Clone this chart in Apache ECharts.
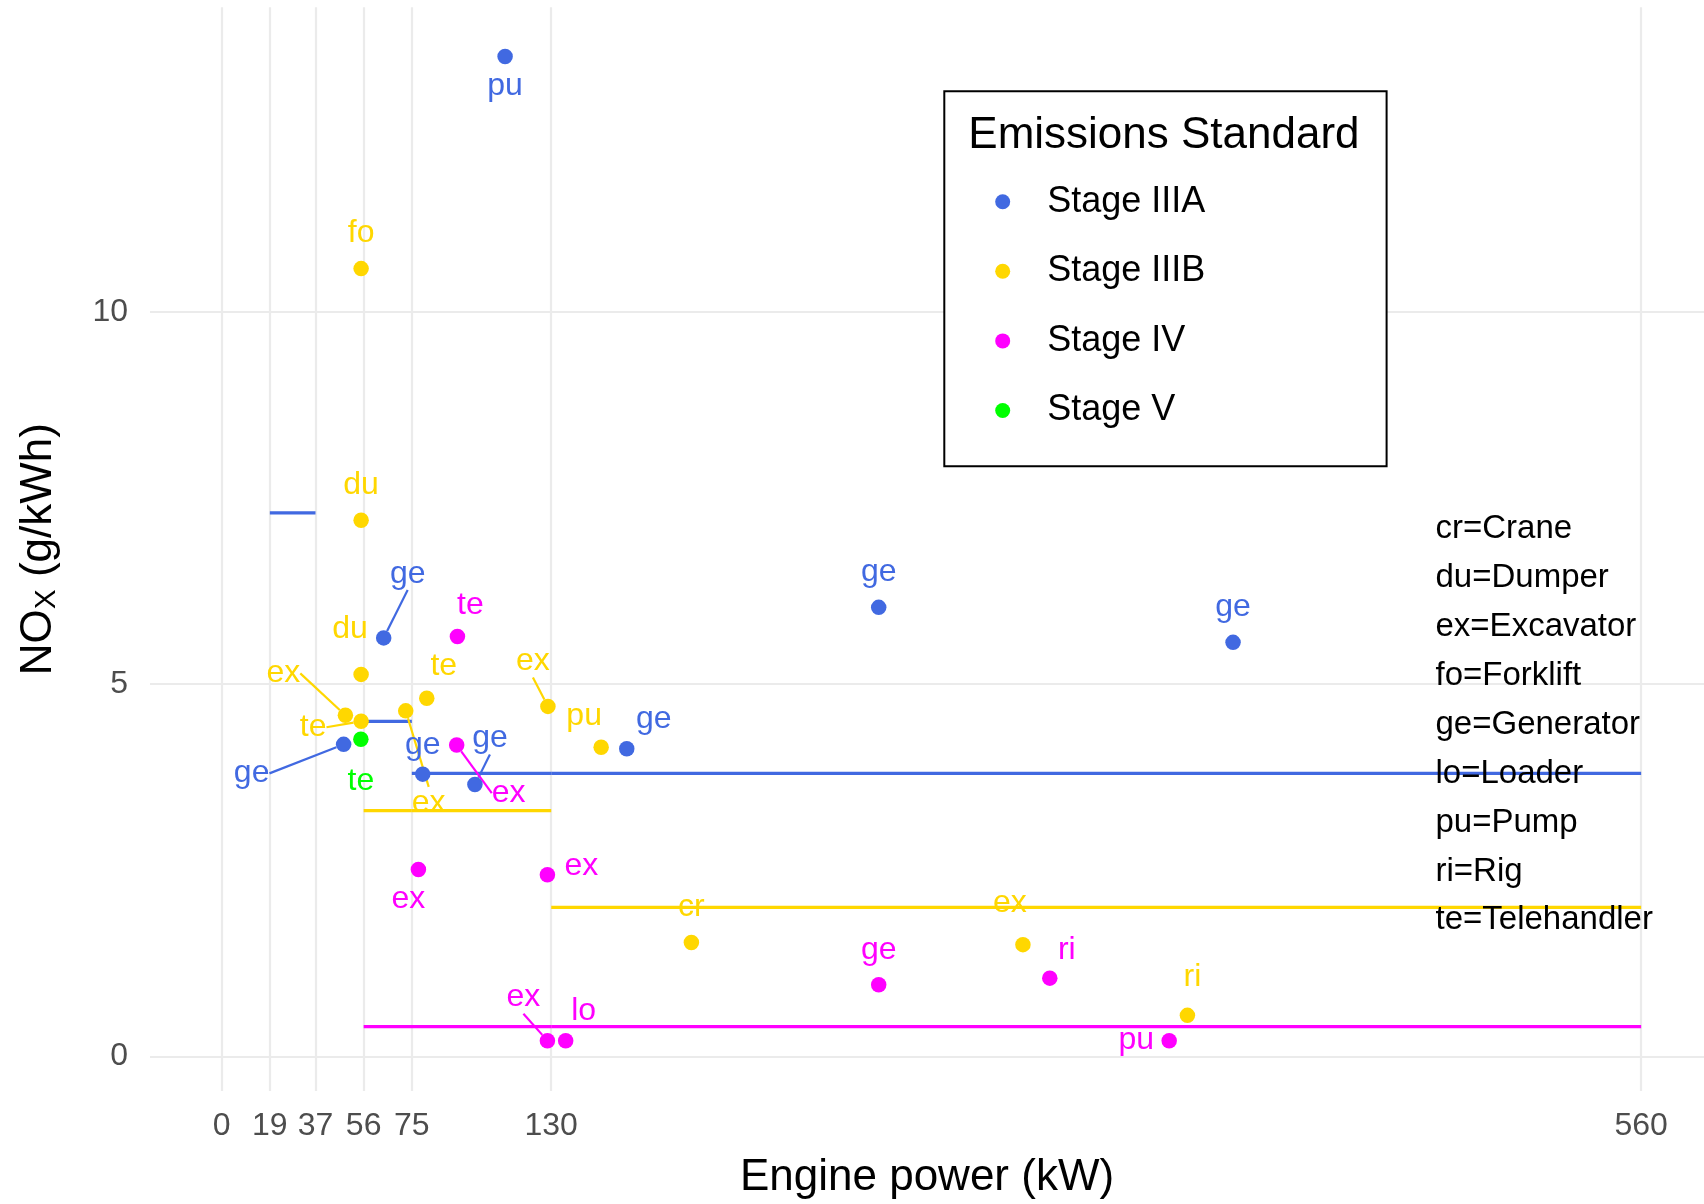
<!DOCTYPE html>
<html>
<head>
<meta charset="utf-8">
<script src="https://cdn.jsdelivr.net/npm/echarts@6/dist/echarts.min.js"></script>
<style>html,body{margin:0;padding:0;background:#fff}#c{width:1704px;height:1204px}</style>
</head>
<body>
<div id="c"></div>
<script>
// ---- DATA ----
const stages = ['Stage IIIA', 'Stage IIIB', 'Stage IV', 'Stage V'];

const iiiaPower = [111.8, 63.9, 48.1, 79.3, 99.9, 159.8, 259.2, 399.0];
const iiiaNOx   = [13.43, 5.62, 4.19, 3.79, 3.65, 4.13, 6.03, 5.56];
const iiiaType  = ['pu', 'ge', 'ge', 'ge', 'ge', 'ge', 'ge', 'ge'];

const iiibPower = [55, 55, 55, 48.8, 55, 72.6, 80.9, 128.7, 149.7, 185.3, 316.1, 381.0];
const iiibNOx   = [10.58, 7.20, 5.13, 4.58, 4.50, 4.64, 4.81, 4.70, 4.15, 1.53, 1.50, 0.55];
const iiibType  = ['fo', 'du', 'du', 'ex', 'te', 'ex', 'te', 'ex', 'pu', 'cr', 'ex', 'ri'];

const ivPower = [93.0, 92.7, 77.6, 128.5, 128.5, 135.7, 259.2, 326.7, 373.8];
const ivNOx   = [5.64, 4.18, 2.51, 2.44, 0.21, 0.21, 0.96, 1.05, 0.21];
const ivType  = ['te', 'ex', 'ex', 'ex', 'ex', 'lo', 'ge', 'ri', 'pu'];

const vPower = [54.9];
const vNOx   = [4.26];
const vType  = ['te'];

// limit segments: [from kW, to kW, NOx]
const limitIIIA = [[19, 37, 7.3], [56, 75, 4.5], [75, 130, 3.8], [130, 560, 3.8]];
const limitIIIB = [[56, 75, 3.3], [75, 130, 3.3], [130, 560, 2.0]];
const limitIV   = [[56, 130, 0.4], [130, 560, 0.4]];

const xTicks = [0, 19, 37, 56, 75, 130, 560];
const yTicks = [0, 5, 10];
const abbreviations = ['cr=Crane', 'du=Dumper', 'ex=Excavator', 'fo=Forklift', 'ge=Generator',
  'lo=Loader', 'pu=Pump', 'ri=Rig', 'te=Telehandler'];

// ---- LAYOUT / STYLE (label offsets in px: [dx, dy, showLine]) ----
const colors = ['#4169E1', '#FFD700', '#FF00FF', '#00FF00'];
const labelOffsets = [
  [[0, 30, 0], [24, -64, 1], [-92, 29, 1], [0, -29, 0], [15, -46, 1], [27, -30, 0], [0, -35, 0], [0, -35, 0]],
  [[0, -35, 0], [0, -35, 0], [-11, -45, 0], [-62, -42, 1], [-48, 6, 1], [23, 92, 1], [17, -32, 0], [-15, -45, 1], [-17, -31, 0], [0, -35, 0], [-13, -41, 0], [5, -38, 0]],
  [[13, -31, 0], [52, 48, 1], [-10, 30, 0], [34, -8, 0], [-24, -43, 1], [18, -29, 0], [0, -35, 0], [17, -28, 0], [-33, 0, 0]],
  [[0, 42, 0]]
];
const FONT = '"Liberation Sans", Arial, sans-serif';

function pts(power, nox, type, si) {
  return power.map((p, i) => ({
    value: [p, nox[i]],
    name: type[i],
    labelLine: { show: !!labelOffsets[si][i][2] }
  }));
}
const pointSets = [
  pts(iiiaPower, iiiaNOx, iiiaType, 0),
  pts(iiibPower, iiibNOx, iiibType, 1),
  pts(ivPower, ivNOx, ivType, 2),
  pts(vPower, vNOx, vType, 3)
];

const series = [];
stages.forEach((s, si) => {
  series.push({
    name: s,
    type: 'scatter',
    data: pointSets[si],
    symbol: 'circle',
    symbolSize: 15.5,
    itemStyle: { color: colors[si], opacity: 1 },
    z: 3,
    label: {
      show: true, position: 'inside', formatter: '{b}',
      color: colors[si], fontSize: 32, fontFamily: FONT
    },
    labelLine: { show: true, lineStyle: { color: colors[si], width: 2.2 } },
    labelLayout: function (p) {
      const o = labelOffsets[p.seriesIndex][p.dataIndex];
      return { dx: o[0], dy: o[1] };
    },
    emphasis: { disabled: true },
    silent: true
  });
});
[[limitIIIA, 0], [limitIIIB, 1], [limitIV, 2]].forEach(([segs, ci]) => {
  segs.forEach((sg, k) => {
    series.push({
      name: 'limit' + ci + '_' + k,
      type: 'line',
      data: [[sg[0], sg[2]], [sg[1], sg[2]]],
      showSymbol: false,
      symbol: 'none',
      lineStyle: { color: colors[ci], width: 3.2 },
      z: 2,
      silent: true,
      emphasis: { disabled: true }
    });
  });
});

const chart = echarts.init(document.getElementById('c'), null, { renderer: 'canvas' });
chart.setOption({
  backgroundColor: '#fff',
  animation: false,
  grid: { left: 150, right: 0, top: 7.3, bottom: 113, outerBoundsMode: 'none' },
  xAxis: {
    type: 'value', min: -28.29, max: 584.8,
    axisLine: { show: false },
    axisTick: { show: false, customValues: xTicks },
    axisLabel: { customValues: xTicks, fontSize: 32, color: '#4D4D4D', fontFamily: FONT, margin: 19 },
    splitLine: { show: true, lineStyle: { color: '#EBEBEB', width: 2.2 } },
    name: 'Engine power (kW)', nameLocation: 'middle', nameGap: 65,
    nameTextStyle: { fontSize: 44, color: '#000', fontFamily: FONT }
  },
  yAxis: {
    type: 'value', min: -0.466, max: 14.09,
    axisLine: { show: false },
    axisTick: { show: false, customValues: yTicks },
    axisLabel: { customValues: yTicks, fontSize: 32, color: '#4D4D4D', fontFamily: FONT, margin: 22 },
    splitLine: { show: true, lineStyle: { color: '#EBEBEB', width: 2.2 } },
    name: '{a|NO}{s|X}{a| (g/kWh)}', nameLocation: 'middle', nameGap: 88,
    nameTextStyle: {
      color: '#000', fontFamily: FONT,
      rich: {
        a: { fontSize: 44, color: '#000', fontFamily: FONT },
        s: { fontSize: 30, color: '#000', fontFamily: FONT, padding: [16, 0, 0, 0] }
      }
    }
  },
  legend: {
    data: stages,
    orient: 'vertical',
    left: 990.2, top: 178.7,
    icon: 'circle',
    itemWidth: 15, itemHeight: 15,
    itemGap: 33.6,
    textStyle: { fontSize: 36, color: '#000', fontFamily: FONT, lineHeight: 36, padding: [0, 0, 0, 32] },
    selectedMode: false,
    z: 10
  },
  graphic: [
    { type: 'rect', z: 8, shape: { x: 944.3, y: 91.3, width: 442.3, height: 374.9 },
      style: { fill: '#fff', stroke: '#000', lineWidth: 2 } },
    { type: 'text', z: 9, left: 968.3, top: 113.5,
      style: { text: 'Emissions Standard', fontSize: 44, fontFamily: FONT, fill: '#000' } },
    { type: 'text', z: 9, left: 1435.5, top: 504.7,
      style: { text: abbreviations.join('\n'), fontSize: 33, fontFamily: FONT, fill: '#000', lineHeight: 48.9 } }
  ],
  series: series
});
</script>
</body>
</html>
